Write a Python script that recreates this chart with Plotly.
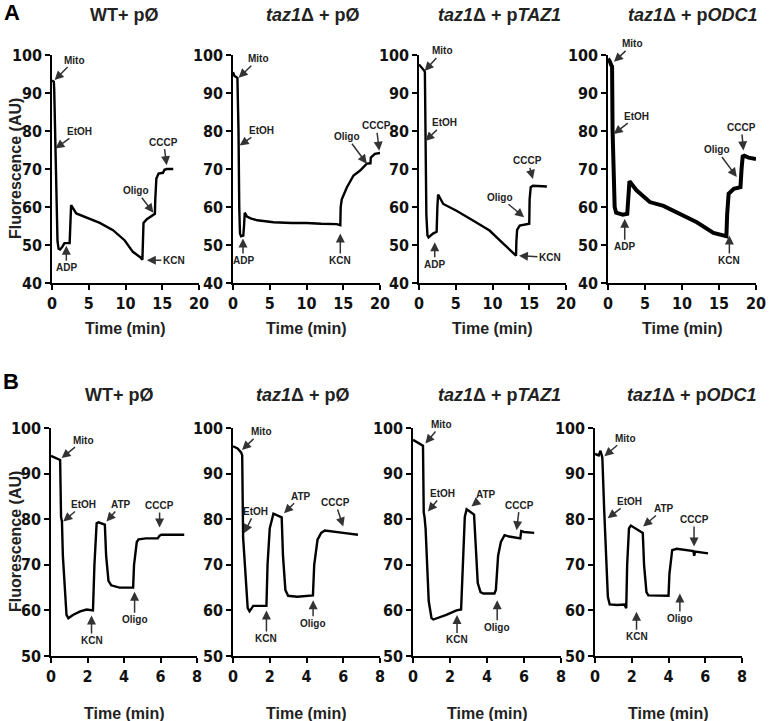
import plotly.graph_objects as go

# ---- panel A (ethanol respiration, 0-20 min) ----
a1_t = [0, 0.25, 0.3, 0.45, 0.6, 0.75, 0.9, 1.1, 1.4, 1.7, 2.4, 2.5, 2.6, 3.3, 4.9, 6.5, 8.3, 9.9, 11.0, 12.0, 12.3, 12.35, 12.45, 12.9, 13.5, 14.0, 14.05, 14.2, 14.5, 15.1, 15.3, 15.6, 16.5]
a1_f = [93.3, 93.0, 91, 75.4, 60, 51, 49, 48.8, 49.5, 50.5, 50.5, 58, 60.5, 58.3, 57, 55.8, 53.9, 51.2, 48.2, 46.8, 46.1, 52, 55.8, 56.8, 57.6, 58.2, 62, 67.5, 68.8, 69, 69.8, 70, 70]

a2_t = [0, 0.2, 0.6, 0.75, 0.85, 0.95, 1.1, 1.4, 1.5, 1.6, 1.9, 2.4, 3.3, 5.5, 8, 10, 12, 14.1, 14.6, 14.65, 14.8, 15.5, 16.4, 17.3, 18.2, 18.7, 18.75, 19.3, 20]
a2_f = [95.5, 94.5, 94, 80, 60, 53, 52.3, 52.5, 55, 58.5, 57.5, 57, 56.5, 56, 55.8, 55.8, 55.6, 55.5, 55.2, 60, 62, 65.2, 68.3, 69.6, 71.4, 71.5, 73, 74, 74.2]

a3_t = [0, 0.35, 0.7, 0.8, 0.9, 1.0, 1.15, 1.3, 1.9, 2.4, 2.5, 2.6, 3.3, 5.1, 7.4, 9.6, 11.5, 12.5, 13.2, 13.25, 13.35, 13.7, 14.5, 15.0, 15.05, 15.2, 15.5, 16.5, 17.4]
a3_f = [97.5, 96.8, 95.9, 95.5, 77, 58, 52.5, 52, 53, 53.5, 60, 63.3, 60.8, 59, 56.4, 53.8, 50.3, 48.5, 47.2, 51, 54, 55.1, 55.4, 55.6, 62, 65.2, 65.6, 65.4, 65.4]

a4_t = [0, 0.2, 0.45, 0.55, 0.62, 0.7, 0.9, 1.1, 1.5, 2.0, 2.6, 2.8, 2.9, 3.85, 5.65, 7.5, 9.7, 12.0, 14.25, 15.5, 16.0, 16.1, 16.3, 17.0, 17.9, 18.05, 18.2, 18.4, 19.0, 20.0]
a4_f = [99, 98.5, 97.3, 97, 80, 70, 60, 58.5, 58.2, 58, 58.2, 63, 66.8, 64.4, 61.3, 60.3, 58.3, 56, 53.2, 52.5, 52.3, 58, 63.5, 64.8, 65.2, 70, 73.3, 73.5, 73, 72.6]

# ---- panel B (ATP-driven, 0-8 min) ----
b1_t = [0, 0.4, 0.5, 0.55, 0.6, 0.65, 0.85, 0.95, 1.2, 1.6, 1.95, 2.3, 2.38, 2.5, 2.6, 2.95, 3.02, 3.15, 3.3, 3.75, 4.5, 4.55, 4.7, 4.8, 5.2, 5.85, 5.95, 6.05, 7.3]
b1_f = [93.9, 93.3, 93, 80.5, 79.5, 72, 59, 58.3, 59, 59.8, 60.2, 60, 70, 79.1, 79.3, 78.8, 72, 66.5, 65.5, 65, 65, 70, 75, 75.6, 75.8, 75.8, 76.4, 76.6, 76.6]

b2_t = [0, 0.25, 0.45, 0.5, 0.55, 0.62, 0.8, 0.9, 1.1, 1.5, 1.82, 1.88, 2.0, 2.2, 2.65, 2.72, 2.85, 3.0, 3.5, 4.35, 4.42, 4.6, 4.8, 5.0, 5.5, 6.0, 6.8]
b2_f = [96, 95.5, 94.6, 94, 76, 72, 60.5, 59.8, 61, 61, 61, 70, 78, 81.2, 80.4, 72, 64.5, 63.2, 63, 63.3, 70, 75.5, 77, 77.5, 77.2, 77, 76.6]

b3_t = [0, 0.54, 0.58, 0.62, 0.68, 0.85, 1.0, 1.1, 1.8, 2.35, 2.6, 2.68, 2.8, 2.9, 3.3, 3.38, 3.5, 3.65, 3.8, 4.4, 4.48, 4.6, 4.75, 4.95, 5.2, 5.8, 5.85, 6.0, 6.55]
b3_f = [97.4, 96.1, 81.5, 80.6, 78, 62, 58.3, 58, 59, 60, 60.2, 70, 80.5, 82.2, 81, 75, 66, 64, 63.7, 63.7, 64.5, 72, 75, 76.5, 76.2, 75.8, 77.4, 77.2, 77]

b4_t = [0, 0.2, 0.3, 0.36, 0.4, 0.5, 0.6, 0.7, 0.8, 1.2, 1.6, 1.7, 1.75, 1.85, 1.95, 2.45, 2.6, 2.67, 2.8, 2.9, 3.5, 4.0, 4.05, 4.2, 4.45, 5.35, 5.4, 5.45, 6.15]
b4_f = [94.3, 94, 95, 94, 93.5, 82, 72, 63, 61.3, 61.2, 61.3, 60.5, 70, 78, 78.6, 77.5, 77, 70, 64, 63.3, 63.2, 63.2, 68, 73.2, 73.5, 73, 72, 72.9, 72.5]

titles = ["WT+ pØ", "<i>taz1</i>Δ + pØ", "<i>taz1</i>Δ + p<i>TAZ1</i>", "<i>taz1</i>Δ + p<i>ODC1</i>"]

# additions: (label, time, fluorescence at arrow tip)
a1_ev = [("Mito", 0.36, 93.4), ("EtOH", 0.45, 75.4), ("ADP", 1.95, 49.8), ("KCN", 12.9, 46.0), ("Oligo", 13.8, 58.5), ("CCCP", 15.6, 71.0)]
a2_ev = [("Mito", 0.77, 94.0), ("EtOH", 0.9, 76.2), ("ADP", 1.36, 51.7), ("KCN", 14.6, 53.0), ("Oligo", 18.2, 71.4), ("CCCP", 19.9, 74.8)]
a3_ev = [("Mito", 0.77, 95.8), ("EtOH", 0.86, 77.4), ("ADP", 2.14, 50.7), ("KCN", 13.6, 47.2), ("Oligo", 14.3, 57.3), ("CCCP", 15.5, 67.4)]
a4_ev = [("Mito", 0.81, 98.2), ("EtOH", 0.77, 79.2), ("ADP", 2.26, 56.9), ("KCN", 16.4, 52.5), ("Oligo", 17.4, 67.9), ("CCCP", 18.3, 74.9)]
b1_ev = [("Mito", 0.58, 93.4), ("EtOH", 0.67, 79.5), ("ATP", 3.04, 79.5), ("CCCP", 5.95, 78.2), ("KCN", 2.22, 58.9), ("Oligo", 4.58, 64.1)]
b2_ev = [("Mito", 0.49, 95.2), ("EtOH", 0.6, 76.9), ("ATP", 2.78, 81.3), ("CCCP", 6.0, 78.4), ("KCN", 1.82, 60.0), ("Oligo", 4.36, 62.2)]
b3_ev = [("Mito", 0.67, 96.6), ("EtOH", 0.81, 81.7), ("ATP", 3.16, 82.8), ("CCCP", 5.6, 77.6), ("KCN", 2.38, 59.0), ("Oligo", 4.55, 62.2)]
b4_ev = [("Mito", 0.51, 93.8), ("EtOH", 0.69, 80.2), ("ATP", 2.62, 78.4), ("CCCP", 5.39, 74.0), ("KCN", 2.26, 59.7), ("Oligo", 4.62, 63.7)]

# label offsets in pixels (ax, ay) for each panel, same order as events
offsets = [
    [(20, -20), (24, -17), (0, 22), (27, 0), (-17, -22), (-3, -23)],
    [(20, -19), (22, -15), (0, 22), (0, 27), (-20, -27), (-3, -25)],
    [(18, -20), (19, -18), (0, 22), (31, 2), (-24, -20), (-5, -18)],
    [(19, -18), (23, -18), (0, 28), (0, 25), (-20, -27), (-2, -23)],
    [(22, -18), (20, -17), (15, -17), (0, -22), (0, 25), (0, 28)],
    [(19, -18), (11, -22), (17, -17), (-8, -24), (0, 28), (0, 23)],
    [(16, -19), (15, -18), (15, -12), (3, -25), (0, 25), (0, 27)],
    [(21, -18), (22, -17), (21, -18), (0, -27), (0, 25), (0, 25)],
]

W, H = 769, 721
# plot-area boxes in window pixels: (left, right, top, bottom)
boxes = [(52, 199, 55, 283), (233, 380, 55, 283), (419, 566, 55, 283), (608, 756, 55, 283),
         (51, 197, 428, 656), (233, 380, 428, 656), (413, 561, 428, 656), (595, 742, 428, 656)]
# panel-title centres (pixels)
title_x = [125, 312, 499, 692, 119, 302, 499, 691]

series = [(a1_t, a1_f), (a2_t, a2_f), (a3_t, a3_f), (a4_t, a4_f),
          (b1_t, b1_f), (b2_t, b2_f), (b3_t, b3_f), (b4_t, b4_f)]
events = [a1_ev, a2_ev, a3_ev, a4_ev, b1_ev, b2_ev, b3_ev, b4_ev]

tick_font = dict(family="DejaVu Sans Condensed, Liberation Sans Narrow, Liberation Sans", size=16, color="#111", weight="bold")
label_font = dict(family="Liberation Sans, Arial", size=16, color="#222", weight="bold")


def fx(px):
    return px / W


def fy(py):
    return 1 - py / H


def paper_note(text, px, py, font, **kw):
    return dict(text=text, x=fx(px), y=fy(py), xref="paper", yref="paper",
                xanchor="center", yanchor="middle", showarrow=False, font=font, **kw)


fig = go.Figure()
annotations = []

for i, ((t, f), (l, r, top, bot)) in enumerate(zip(series, boxes)):
    n = "" if i == 0 else str(i + 1)
    xref, yref = "x" + n, "y" + n
    fig.add_trace(go.Scatter(x=t, y=f, mode="lines", xaxis=xref, yaxis=yref,
                             line=dict(color="black", width=4 if i == 3 else 2.4),
                             showlegend=False, hoverinfo="skip"))
    rowA = i < 4
    axis_common = dict(showline=True, linecolor="black", linewidth=1.5, ticks="outside",
                       ticklen=5, tickwidth=1.5, tickcolor="black", showgrid=False,
                       zeroline=False, tickfont=tick_font, automargin=False)
    fig.layout["xaxis" + n] = dict(domain=[fx(l), fx(r)], anchor=yref,
                                   range=[0, 20] if rowA else [0, 8],
                                   tickvals=[0, 5, 10, 15, 20] if rowA else [0, 2, 4, 6, 8],
                                   **axis_common)
    fig.layout["yaxis" + n] = dict(domain=[fy(bot), fy(top)], anchor=xref,
                                   range=[40, 100] if rowA else [50, 100],
                                   dtick=10, **axis_common)

    # panel title and x-axis title
    cx = (l + r) / 2
    annotations.append(paper_note(titles[i % 4], title_x[i], 15 if rowA else 395,
                                  dict(family="Liberation Sans, Arial", size=18, color="#222", weight="bold")))
    annotations.append(paper_note("Time (min)", cx, bot + 45 if rowA else bot + 57, label_font))

    # addition arrows
    for (lab, et, ef), (ax, ay) in zip(events[i], offsets[i]):
        annotations.append(dict(text=lab, x=et, y=ef, xref=xref, yref=yref,
                                ax=ax, ay=ay, showarrow=True, arrowhead=2, arrowsize=1.2,
                                arrowwidth=1.5, arrowcolor="#333",
                                font=dict(family="Liberation Sans, Arial", size=10, color="#222", weight="bold")))

for yc in [(55 + 283) / 2, (428 + 656) / 2]:
    annotations.append(paper_note("Fluorescence (AU)", 15, yc, label_font, textangle=-90))

big = dict(family="Liberation Sans, Arial", size=22, color="black", weight="bold")
annotations.append(paper_note("A", 12, 13, big))
annotations.append(paper_note("B", 11, 381, big))

fig.update_layout(width=W, height=H, margin=dict(l=0, r=0, t=0, b=0, autoexpand=False),
                  plot_bgcolor="white", paper_bgcolor="white",
                  annotations=annotations)

# drop the default page margin so the figure fills the window exactly
fig.write_html("out.html", config={"displayModeBar": False},
               post_script="document.body.style.margin='0';")
